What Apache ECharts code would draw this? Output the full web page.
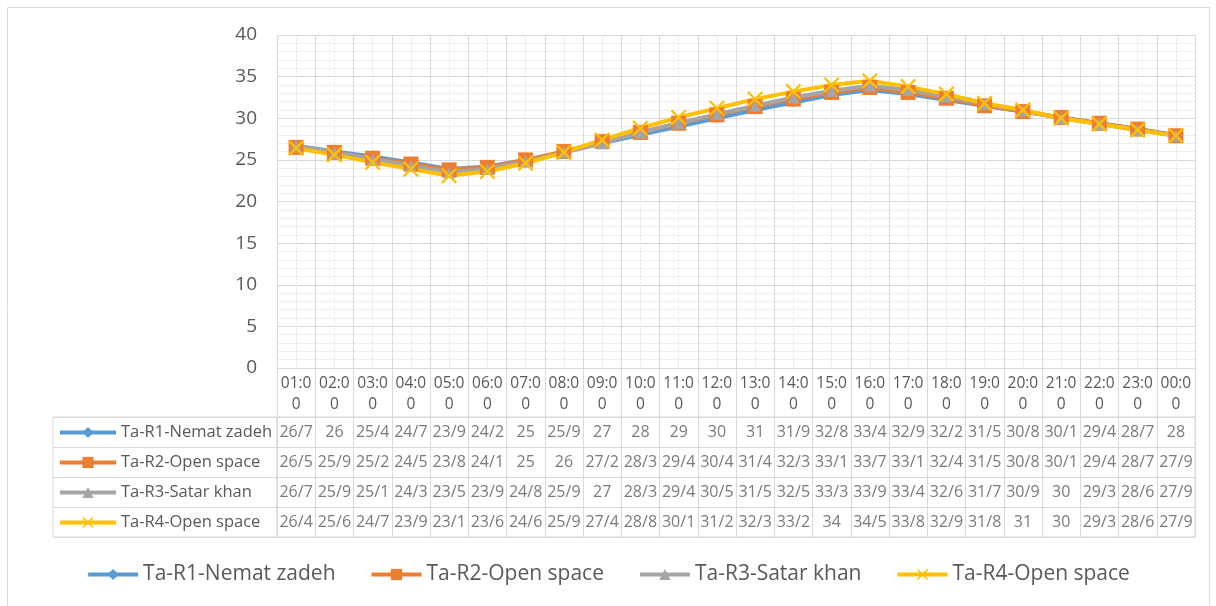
<!DOCTYPE html>
<html>
<head>
<meta charset="utf-8">
<script src="https://cdn.jsdelivr.net/npm/echarts@6/dist/echarts.min.js"></script>
<style>
  html, body { margin: 0; padding: 0; background: #fff; }
  #chart { width: 1216px; height: 606px; }
</style>
</head>
<body>
<div id="chart"></div>
<script>
var hours = ['01:00', '02:00', '03:00', '04:00', '05:00', '06:00', '07:00', '08:00', '09:00', '10:00', '11:00', '12:00',
  '13:00', '14:00', '15:00', '16:00', '17:00', '18:00', '19:00', '20:00', '21:00', '22:00', '23:00', '00:00']
var r1 = [26.7, 26, 25.4, 24.7, 23.9, 24.2, 25, 25.9, 27, 28, 29, 30, 31, 31.9, 32.8, 33.4, 32.9, 32.2, 31.5, 30.8, 30.1, 29.4, 28.7, 28]
var r2 = [26.5, 25.9, 25.2, 24.5, 23.8, 24.1, 25, 26, 27.2, 28.3, 29.4, 30.4, 31.4, 32.3, 33.1, 33.7, 33.1, 32.4, 31.5, 30.8, 30.1, 29.4, 28.7, 27.9]
var r3 = [26.7, 25.9, 25.1, 24.3, 23.5, 23.9, 24.8, 25.9, 27, 28.3, 29.4, 30.5, 31.5, 32.5, 33.3, 33.9, 33.4, 32.6, 31.7, 30.9, 30, 29.3, 28.6, 27.9]
var r4 = [26.4, 25.6, 24.7, 23.9, 23.1, 23.6, 24.6, 25.9, 27.4, 28.8, 30.1, 31.2, 32.3, 33.2, 34, 34.5, 33.8, 32.9, 31.8, 31, 30, 29.3, 28.6, 27.9]
var names = ['Ta-R1-Nemat zadeh', 'Ta-R2-Open space', 'Ta-R3-Satar khan', 'Ta-R4-Open space']
var colors = ['#5B9BD5', '#ED7D31', '#A5A5A5', '#FFC000']
var yTicks = { min: 0, max: 40, step: 5 }

var font = 'Open Sans'
var gridColor = '#D9D9D9'
var minorColor = '#EEEEEE'
var textColor = '#595959'
var xMark = 'path://M0,1L1,0L5,4L9,0L10,1L6,5L10,9L9,10L5,6L1,10L0,9L4,5Z'
var symbols = ['diamond', 'rect', 'triangle', xMark]
var symbolSizes = [9, 15, 12, 16]
var allSeries = [r1, r2, r3, r4]

// table cells: [column, row, value]
var cells = []
allSeries.forEach(function (arr, i) {
  arr.forEach(function (v, j) { cells.push([j, i, v]) })
})

var chart = echarts.init(document.getElementById('chart'))

var lineSeries = allSeries.map(function (arr, i) {
  return {
    name: names[i],
    type: 'line',
    xAxisIndex: 0,
    yAxisIndex: 0,
    data: arr,
    symbol: symbols[i],
    symbolSize: symbolSizes[i],
    showAllSymbol: true,
    lineStyle: { width: 4, color: colors[i] },
    itemStyle: { color: colors[i] }
  }
})

var option = {
  animation: false,
  textStyle: { fontFamily: font },
  graphic: [{
    type: 'rect',
    shape: { x: 7.5, y: 7.5, width: 1202, height: 610 },
    style: { fill: 'none', stroke: gridColor, lineWidth: 1 },
    silent: true
  }],
  legend: [{
    data: names,
    bottom: 16,
    left: 'center',
    itemWidth: 50,
    itemHeight: 14,
    itemGap: 34,
    lineStyle: { width: 4 },
    textStyle: { fontSize: 21, color: textColor, fontFamily: font }
  }, {
    data: names,
    orient: 'vertical',
    left: 58,
    top: 424,
    padding: 0,
    itemWidth: 56,
    itemHeight: 14,
    itemGap: 13,
    lineStyle: { width: 4 },
    textStyle: { fontSize: 16.5, color: textColor, fontFamily: font }
  }],
  grid: [
    { left: 277, top: 35, width: 918, height: 333 },
    { left: 277, top: 417, width: 918, height: 120, show: true, borderColor: gridColor, borderWidth: 1 },
    { left: 53, top: 417, width: 224, height: 120, show: true, borderColor: gridColor, borderWidth: 1 }
  ],
  xAxis: [{
    gridIndex: 0,
    type: 'category',
    data: hours,
    boundaryGap: true,
    axisLine: { lineStyle: { color: gridColor } },
    axisTick: { show: true, interval: 0, length: 49, lineStyle: { color: gridColor } },
    axisLabel: {
      interval: 0,
      fontSize: 15.5,
      color: textColor,
      lineHeight: 21,
      margin: 5,
      formatter: function (v) { return v.slice(0, 4) + '\n' + v.slice(4) }
    },
    splitLine: { show: true, interval: 0, lineStyle: { color: gridColor } }
  }, {
    gridIndex: 0,
    type: 'value',
    min: 0,
    max: hours.length,
    interval: 1,
    axisLine: { show: false },
    axisTick: { show: false },
    axisLabel: { show: false },
    splitLine: { show: false },
    minorTick: { show: false, splitNumber: 2 },
    minorSplitLine: { show: true, lineStyle: { color: minorColor } }
  }, {
    gridIndex: 1,
    type: 'category',
    data: hours,
    boundaryGap: true,
    axisLine: { show: false },
    axisTick: { show: false },
    axisLabel: { show: false },
    splitLine: { show: true, interval: 0, lineStyle: { color: gridColor } }
  }, {
    gridIndex: 2,
    type: 'value',
    show: false
  }],
  yAxis: [{
    gridIndex: 0,
    type: 'value',
    min: yTicks.min,
    max: yTicks.max,
    interval: yTicks.step,
    axisLine: { show: false },
    axisTick: { show: false },
    axisLabel: { fontSize: 19, color: textColor, margin: 20 },
    splitLine: { show: true, lineStyle: { color: gridColor } },
    minorTick: { show: false, splitNumber: 5 },
    minorSplitLine: { show: true, lineStyle: { color: minorColor } }
  }, {
    gridIndex: 1,
    type: 'category',
    data: names,
    inverse: true,
    boundaryGap: true,
    axisLine: { show: false },
    axisTick: { show: false },
    axisLabel: { show: false },
    splitLine: { show: true, interval: 0, lineStyle: { color: gridColor } }
  }, {
    gridIndex: 2,
    type: 'category',
    data: names,
    inverse: true,
    boundaryGap: true,
    axisLine: { show: false },
    axisTick: { show: false },
    axisLabel: { show: false },
    splitLine: { show: true, interval: 0, lineStyle: { color: gridColor } }
  }],
  series: lineSeries.concat([{
    name: 'table',
    type: 'scatter',
    xAxisIndex: 2,
    yAxisIndex: 1,
    data: cells,
    encode: { x: 0, y: 1 },
    symbolSize: 1,
    itemStyle: { color: 'rgba(0,0,0,0)' },
    silent: true,
    labelLayout: { hideOverlap: false },
    label: {
      show: true,
      position: 'inside',
      fontSize: 16,
      color: textColor,
      formatter: function (p) { return String(p.value[2]).replace('.', '/') }
    }
  }])
}

chart.setOption(option)
</script>
</body>
</html>
